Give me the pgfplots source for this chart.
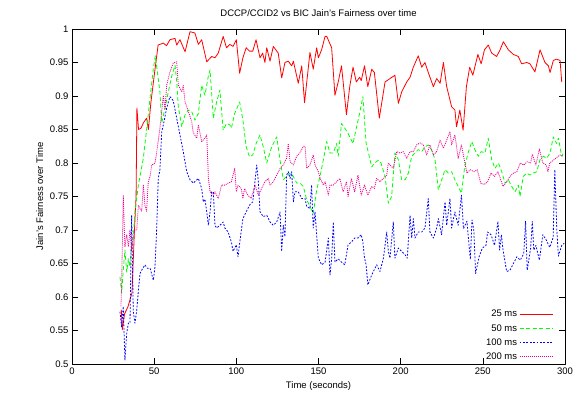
\documentclass[border=0pt]{standalone}
\usepackage{fontspec}
\setmainfont{Liberation Sans}
\usepackage{pgfplots}
\pgfplotsset{compat=1.18}
\begin{document}
\begin{tikzpicture}
\begin{axis}[
  scale only axis, width=493pt, height=335pt,
  xmin=0, xmax=300, ymin=0.5, ymax=1,
  xtick={0,50,...,300},
  ytick={0.5,0.55,0.6,0.65,0.7,0.75,0.8,0.85,0.9,0.95,1},
  /pgf/number format/assume math mode=true,
  /pgf/number format/precision=2,
  tick align=inside, major tick length=6pt,
  axis line style={line width=0.8pt},
  tick style={line width=0.6pt, black},
  tick label style={font=\fontsize{9.5}{11}\selectfont},
  label style={font=\fontsize{9.5}{11}\selectfont},
  title style={font=\fontsize{9.5}{11}\selectfont, yshift=3pt},
  title={DCCP/CCID2 vs BIC Jain's Fairness over time},
  xlabel={Time (seconds)},
  ylabel={Jain's Fairness over Time},
  legend plot pos=right,
  legend cell align=right,
  legend style={at={(0.978,0.0)}, anchor=south east, draw=none, fill=none,
    font=\fontsize{9.5}{11}\selectfont, row sep=2pt, inner sep=1pt},
  legend image code/.code={\draw[mark repeat=2,mark phase=2,#1] plot coordinates {(0pt,0pt) (33pt,0pt)};},
  line join=round,
]
\addplot[color=red, line width=0.8pt] coordinates {
(30,0.581) (30.6,0.551) (32,0.575) (34,0.585) (36.5,0.606) (38,0.70) (39,0.75) (39.5,0.882)
(40.5,0.850) (42,0.852) (43.5,0.860) (45.4,0.867) (46.5,0.850) (48,0.89) (50,0.93) (52.4,0.976)
(55.6,0.979) (57.5,0.975) (59.6,0.984) (62.7,0.986) (63.7,0.976) (65.7,0.984) (68.8,0.966)
(71.8,0.996) (74.8,0.994) (76.9,0.977) (78.9,0.984) (82,0.951) (85,0.959) (87,0.957) (89,0.964)
(92,0.989) (94,0.972) (96,0.977) (98,0.974) (100,0.984) (102,0.934) (104,0.957) (106,0.972)
(108,0.967) (110,0.967) (112,0.984) (114.4,0.957) (116,0.964) (117.4,0.950) (118.5,0.972)
(120.5,0.952) (122.5,0.974) (125.5,0.964) (127.6,0.927) (129.6,0.950) (131.6,0.952) (133.7,0.945)
(134.7,0.952) (137.7,0.919) (139.8,0.945) (141.5,0.89) (144.8,0.965) (146.8,0.940) (148.9,0.972)
(149.9,0.957) (151.9,0.969) (154,0.989) (155,0.989) (158,0.972) (160,0.901) (162,0.921) (164,0.945)
(165,0.921) (167,0.872) (169,0.914) (171,0.943) (173,0.921) (175,0.928) (176,0.923) (178,0.945)
(180,0.914) (182.4,0.940) (184,0.935) (187,0.867) (190.5,0.921) (193.5,0.926) (196.5,0.931)
(198.6,0.889) (200.6,0.906) (203.7,0.921) (205.7,0.928) (207.7,0.943) (210.7,0.960) (212.8,0.943)
(214.8,0.950) (216.8,0.935) (219.9,0.914) (221.9,0.926) (224,0.919) (226,0.950) (228,0.914)
(231,0.884) (233,0.879) (234,0.854) (236,0.879) (238,0.849) (240,0.914) (242,0.943) (243.9,0.931)
(247,0.962) (249,0.948) (251,0.969) (253.3,0.976) (255.4,0.964) (258.4,0.959) (260.5,0.969)
(262.5,0.981) (265.5,0.969) (268.6,0.962) (271.6,0.959) (273.6,0.948) (276.7,0.950) (278.7,0.948)
(281.7,0.936) (284.8,0.969) (287.8,0.950) (289.9,0.945) (290.9,0.935) (292.9,0.953) (294.9,0.955)
(297,0.953) (298,0.921)
};
\addlegendentry{25 ms}
\addplot[color=green, line width=0.8pt, dash pattern=on 4pt off 2.5pt] coordinates {
(29.2,0.630) (30.2,0.606) (31.2,0.64) (32.2,0.670) (33.3,0.637) (34.3,0.657) (35.3,0.645)
(36.3,0.682) (37.3,0.690) (38.3,0.727) (40.4,0.767) (43.4,0.807) (45.5,0.852) (47.5,0.897)
(49.5,0.941) (50.7,0.960) (53.5,0.906) (54.6,0.860) (56.6,0.882) (58.6,0.906) (60.7,0.930)
(62.7,0.946) (63.7,0.922) (64.7,0.884) (66.8,0.854) (68.8,0.872) (70.8,0.879) (72.8,0.877)
(74.8,0.864) (76.9,0.874) (78.9,0.916) (80.9,0.901) (82.9,0.929) (84,0.939) (86,0.867) (88,0.891)
(90,0.909) (92,0.849) (94,0.859) (96,0.857) (97,0.852) (99,0.874) (102,0.891) (104,0.864)
(106,0.824) (108,0.809) (110,0.812) (112,0.829) (114.4,0.842) (116.4,0.824) (118.5,0.800)
(121.5,0.824) (124.6,0.839) (126.6,0.804) (128.6,0.775) (130.6,0.780) (132.7,0.785) (134.7,0.780)
(136.7,0.770) (138.7,0.770) (140.8,0.765) (142.8,0.745) (144.8,0.735) (146.8,0.725) (148.9,0.760)
(150.9,0.780) (152.9,0.804) (155,0.832) (157,0.815) (159,0.815) (161,0.829) (162,0.810) (164,0.859)
(166,0.852) (168,0.844) (171,0.829) (173,0.852) (175,0.874) (177,0.899) (179,0.829) (180,0.819)
(182.4,0.794) (184,0.800) (186.4,0.804) (188,0.800) (190.5,0.780) (192.5,0.740) (194.5,0.750)
(196.5,0.815) (198.6,0.805) (200.6,0.775) (202.7,0.775) (204.7,0.785) (206.7,0.810) (208.7,0.815)
(210.7,0.820) (212.8,0.817) (214.8,0.824) (216.8,0.827) (218.9,0.819) (220.9,0.805) (222.9,0.760)
(225,0.775) (227,0.790) (229,0.785) (231,0.787) (233,0.775) (235,0.765) (237,0.755) (239,0.795)
(241,0.815) (243.3,0.832) (245.3,0.819) (247.3,0.810) (249,0.817) (251.3,0.815) (253.3,0.837)
(255.4,0.805) (257.4,0.792) (259.5,0.800) (261.5,0.787) (263.5,0.770) (265.5,0.775) (267.6,0.765)
(269.6,0.757) (271.6,0.767) (272.6,0.750) (274.6,0.780) (276.7,0.785) (278.7,0.782) (280.7,0.785)
(282.8,0.787) (284.8,0.805) (286.8,0.810) (288.8,0.807) (290.9,0.815) (292.9,0.839) (294.9,0.829)
(296,0.837) (298,0.810) (299,0.815)
};
\addlegendentry{50 ms}
\addplot[color=blue, line width=0.8pt, dash pattern=on 1.8pt off 1.6pt] coordinates {
(29.2,0.578) (30.2,0.555) (31.2,0.586) (32.2,0.506) (33.3,0.546) (34.3,0.561) (35.3,0.561)
(36.3,0.722) (37.3,0.578) (38.3,0.561) (39.4,0.580) (40.4,0.610) (41.4,0.635) (42.4,0.640)
(44.4,0.648) (45.8,0.643) (47.5,0.643) (49.5,0.625) (50.5,0.645) (51.5,0.700) (52.5,0.777)
(53.5,0.790) (54.6,0.847) (55.6,0.857) (57.6,0.882) (59.6,0.899) (61.6,0.893) (63.7,0.867)
(65.7,0.842) (67.7,0.817) (69.8,0.787) (71.8,0.775) (73.8,0.770) (76.9,0.777) (78.9,0.762)
(79.9,0.742) (80.9,0.746) (82,0.727) (83,0.707) (84,0.727) (85,0.757) (86,0.757) (87,0.707)
(88,0.703) (90,0.707) (92,0.712) (93,0.703) (95,0.697) (97,0.682) (98,0.668) (100,0.678)
(101,0.660) (102,0.680) (104,0.717) (106,0.727) (108,0.737) (110,0.742) (112.4,0.797) (113.4,0.772)
(114.4,0.727) (116.4,0.720) (118.5,0.722) (120.5,0.712) (122.5,0.707) (124.6,0.712) (126.6,0.727)
(127.6,0.668) (128.6,0.707) (129.6,0.690) (130.6,0.782) (131.6,0.787) (132.7,0.777) (133.7,0.787)
(134.7,0.742) (135.7,0.757) (137.7,0.757) (139.8,0.747) (141.8,0.747) (142.8,0.735) (144.8,0.732)
(145.8,0.767) (146.8,0.703) (147.9,0.727) (149.9,0.658) (151.9,0.648) (154,0.652) (156,0.688)
(157,0.633) (158,0.657) (159,0.712) (160,0.652) (162,0.657) (164,0.652) (166,0.648) (168,0.678)
(170,0.682) (172,0.688) (174,0.688) (176,0.693) (177,0.682) (178,0.658) (179,0.648) (180,0.618)
(182.4,0.633) (183.4,0.638) (185.4,0.648) (187.4,0.638) (189.5,0.658) (191.5,0.697) (192.5,0.668)
(193.5,0.658) (195.5,0.712) (196.5,0.658) (198.6,0.673) (200.6,0.668) (202.7,0.663) (204,0.658)
(205.7,0.722) (206.7,0.688) (207.7,0.717) (208.7,0.688) (210.7,0.697) (212.8,0.697) (214.8,0.703)
(216.8,0.747) (217.8,0.697) (219.9,0.688) (221.9,0.703) (222.9,0.717) (224.9,0.693) (227,0.742)
(228,0.707) (230,0.747) (231,0.703) (233,0.727) (235,0.707) (237,0.752) (238.2,0.702) (240.3,0.713)
(242.4,0.656) (243.4,0.715) (244.5,0.700) (245.6,0.635) (247.7,0.660) (249.7,0.673) (251.9,0.677)
(252.9,0.697) (255,0.693) (257.1,0.677) (259.2,0.713) (260.2,0.670) (261.3,0.693) (262.3,0.670)
(264.5,0.638) (266.5,0.640) (268.6,0.650) (270.7,0.660) (272.8,0.655) (274.9,0.665) (276,0.713)
(277,0.640) (279.1,0.673) (280.1,0.713) (281,0.670) (282.3,0.677) (284.4,0.655) (286.5,0.693)
(288.6,0.685) (290.7,0.674) (292.8,0.689) (293.8,0.790) (295,0.700) (296,0.661) (298,0.677)
(299.5,0.680)
};
\addlegendentry{100 ms}
\addplot[color=magenta, line width=0.8pt, dash pattern=on 1pt off 1pt] coordinates {
(29.8,0.586) (30.2,0.620) (31.2,0.752) (32.2,0.675) (33.3,0.693) (34.3,0.675) (35.3,0.700)
(36.3,0.670) (37.3,0.688) (38.3,0.700) (39.4,0.700) (40.4,0.737) (42.4,0.728) (43.4,0.767)
(44.4,0.737) (45.4,0.728) (46.4,0.772) (47.5,0.780) (48.5,0.797) (50.5,0.800) (51.5,0.815)
(53.5,0.852) (55.6,0.901) (56.6,0.880) (57.6,0.916) (59.6,0.936) (61.6,0.949) (63.7,0.951)
(64.7,0.916) (66.8,0.906) (67.7,0.916) (68.8,0.891) (70.8,0.877) (72.8,0.862) (73.8,0.845)
(75.9,0.837) (76.9,0.857) (78.9,0.832) (80.9,0.837) (82,0.842) (83,0.777) (84,0.757) (86,0.752)
(87,0.757) (89,0.747) (91,0.767) (93,0.767) (95,0.770) (97,0.772) (99,0.792) (100,0.757)
(101,0.767) (103,0.762) (104,0.747) (105,0.762) (107,0.752) (109,0.747) (111.4,0.767) (113.4,0.752)
(115.4,0.762) (117.4,0.772) (119.5,0.777) (120.5,0.767) (122.5,0.772) (124.6,0.782) (126.6,0.792)
(128.6,0.797) (130.6,0.807) (131.6,0.829) (132.7,0.802) (134.7,0.797) (136.7,0.810) (138.7,0.815)
(140.8,0.825) (141.8,0.825) (142.8,0.792) (144.8,0.797) (146.8,0.812) (147.9,0.797) (149.9,0.787)
(151,0.777) (153,0.767) (154,0.772) (156,0.752) (157,0.767) (159,0.767) (161,0.772) (163,0.777)
(165,0.757) (167,0.772) (168,0.750) (170,0.777) (172,0.757) (174,0.782) (176,0.752) (178,0.767)
(180,0.752) (182.4,0.765) (184,0.762) (185.4,0.777) (187.4,0.772) (189.5,0.777) (191.5,0.782)
(192.5,0.800) (193.5,0.797) (195.5,0.792) (197.6,0.817) (199.6,0.815) (201.6,0.817) (203.7,0.807)
(205.7,0.817) (207.7,0.817) (209.7,0.827) (211.8,0.830) (213.8,0.827) (215.8,0.812) (217.8,0.827)
(219.9,0.812) (221.9,0.817) (224,0.834) (226,0.822) (228,0.834) (230,0.847) (231,0.827) (233,0.842)
(235,0.807) (237,0.827) (238.2,0.811) (240.3,0.785) (242.4,0.790) (244.5,0.787) (246.6,0.790)
(248.7,0.770) (250.8,0.768) (252.9,0.772) (255,0.785) (257.1,0.780) (259.2,0.787) (261.3,0.772)
(262.3,0.765) (264.5,0.772) (266.5,0.780) (268.6,0.785) (270.7,0.787) (272.8,0.800) (274.9,0.797)
(277,0.802) (279.1,0.800) (280.1,0.813) (282.3,0.797) (284.4,0.821) (286.5,0.800) (288.6,0.797)
(289.6,0.787) (290.7,0.800) (292.8,0.804) (294.9,0.808) (297,0.812) (299.1,0.810)
};
\addlegendentry{200 ms}
\end{axis}
\pgfresetboundingbox
\path ([shift={(-72pt,-34pt)}]current axis.south west) rectangle ([shift={(20pt,29pt)}]current axis.north east);
\end{tikzpicture}
\end{document}
